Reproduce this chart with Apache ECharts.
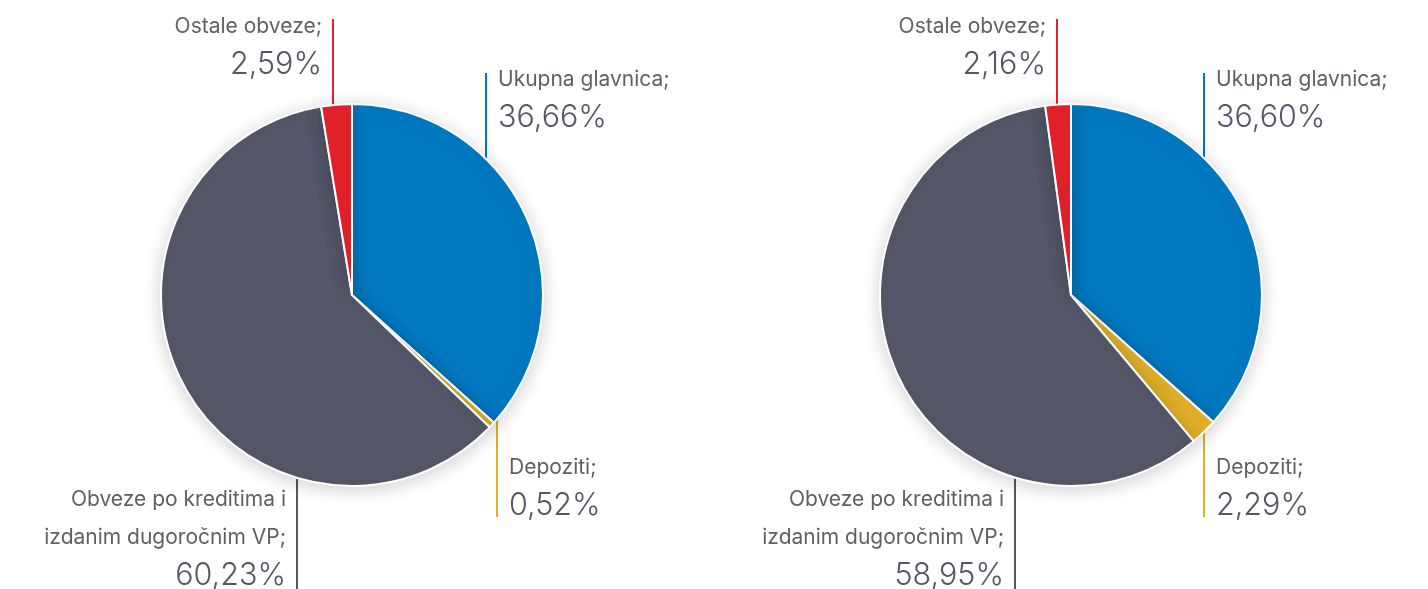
<!DOCTYPE html>
<html>
<head>
<meta charset="utf-8">
<script src="https://cdn.jsdelivr.net/npm/echarts@6/dist/echarts.min.js"></script>
<style>
    html, body { margin: 0; padding: 0; background: #fff; }
    #chart { width: 1428px; height: 589px; }
</style>
</head>
<body>
<div id="chart"></div>
<script>
    // podaci (udjeli u %)
    const categories = ['Ukupna glavnica', 'Depoziti', 'Obveze po kreditima i\nizdanim dugoročnim VP', 'Ostale obveze']
    const leftValues = [36.66, 0.52, 60.23, 2.59]
    const rightValues = [36.60, 2.29, 58.95, 2.16]
    const colors = ['#0079c1', '#e2b12b', '#545769', '#e4222a']

    // raspored
    const pieCenters = [[352, 295], [1071, 295]]
    const pieRadius = 191
    // po pitama, po kategoriji: pomak linije od sredista, kraj linije, strana teksta, vrh teksta
    const guideSpots = [
        [
            {dx: 134, end: 73, side: 'right', top: 61},
            {dx: 145, end: 517, side: 'right', top: 449},
            {dx: -55, end: 589, side: 'left', top: 481},
            {dx: -19, end: 19, side: 'left', top: 8}
        ],
        [
            {dx: 133, end: 73, side: 'right', top: 61},
            {dx: 133, end: 517, side: 'right', top: 449},
            {dx: -56, end: 589, side: 'left', top: 481},
            {dx: -14, end: 19, side: 'left', top: 8}
        ]
    ]

    const fmt = v => v.toFixed(2).replace('.', ',') + '%'

    const nameFont = {fontFamily: 'Inter', fontSize: 21, color: '#5d6267', lineHeight: 38}
    const valueFont = {fontFamily: 'Inter', fontSize: 30.5, fontWeight: 300, color: '#545769', lineHeight: 38}
    let rich = {
        nl: Object.assign({align: 'left'}, nameFont),
        vl: Object.assign({align: 'left'}, valueFont),
        nr: Object.assign({align: 'right'}, nameFont),
        vr: Object.assign({align: 'right'}, valueFont)
    }

    function makeSeries(values, si){
        return {
            type: 'pie',
            center: pieCenters[si],
            radius: pieRadius,
            startAngle: 90,
            clockwise: true,
            avoidLabelOverlap: false,
            animation: false,
            itemStyle: {
                borderColor: '#fff',
                borderWidth: 2,
                shadowBlur: 18,
                shadowOffsetY: 3,
                shadowColor: 'rgba(0,0,0,0.18)'
            },
            label: {
                show: true,
                position: 'outside',
                formatter: p => {
                    let k = guideSpots[si][p.dataIndex].side === 'right' ? 'l' : 'r'
                    return `{n${k}|${p.name};}\n{v${k}|${fmt(p.value)}}`
                },
                rich
            },
            labelLine: {show: true, lineStyle: {width: 2}},
            labelLayout: p => {
                let s = guideSpots[si][p.dataIndex]
                let c = pieCenters[si]
                let lx = c[0] + s.dx
                let edge = c[1] + Math.sign(s.end - c[1]) * Math.sqrt(pieRadius * pieRadius - s.dx * s.dx)
                return {
                    x: s.side === 'right' ? lx + 12 : lx - 11,
                    y: s.top,
                    align: s.side === 'right' ? 'left' : 'right',
                    verticalAlign: 'top',
                    labelLinePoints: [[lx, edge], [lx, (edge + s.end) / 2], [lx, s.end]]
                }
            },
            emphasis: {disabled: true},
            data: values.map((v, i) => ({name: categories[i], value: v}))
        }
    }

    const chart = echarts.init(document.getElementById('chart'))
    chart.setOption({
        backgroundColor: '#ffffff',
        color: colors,
        animation: false,
        series: [makeSeries(leftValues, 0), makeSeries(rightValues, 1)]
    })
</script>
</body>
</html>
